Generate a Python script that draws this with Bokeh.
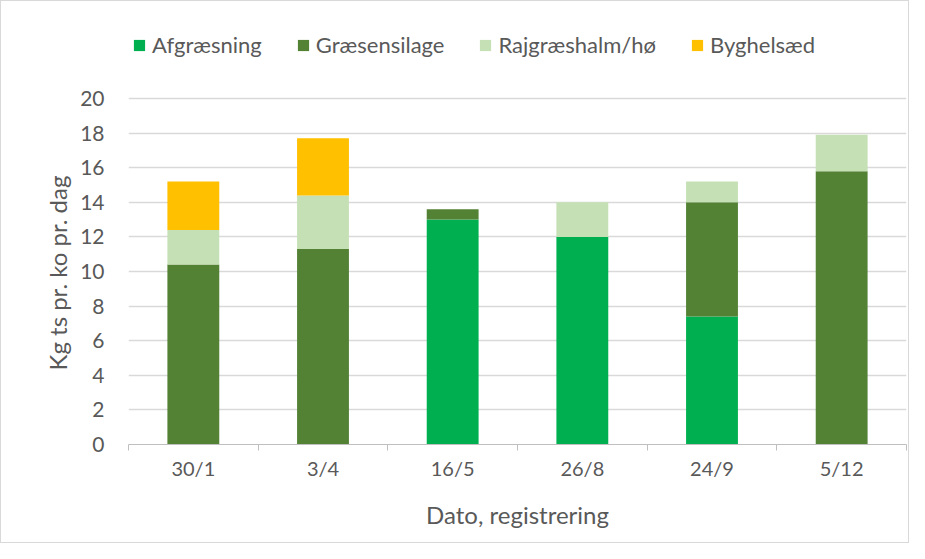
from bokeh.plotting import figure
from bokeh.models import ColumnDataSource, FixedTicker, Range1d, Legend, LegendItem, Title
from bokeh.embed import file_html
from bokeh.resources import INLINE

# ---- data ----
dates = ["30/1", "3/4", "16/5", "26/8", "24/9", "5/12"]
afgraesning = [0, 0, 13.0, 12.0, 7.4, 0]
graesensilage = [10.4, 11.3, 0.6, 0, 6.6, 15.8]
rajgraeshalm = [2.0, 3.1, 0, 2.0, 1.2, 2.1]
byghelsaed = [2.8, 3.3, 0, 0, 0, 0]
series_names = ["Afgræsning", "Græsensilage", "Rajgræshalm/hø", "Byghelsæd"]
colors = ["#00B050", "#548235", "#C5E0B4", "#FFC000"]
y_ticks = list(range(0, 21, 2))
x_label = "Dato, registrering"
y_label = "Kg ts pr. ko pr. dag"

FONT = "Lato"
TXT = "#595959"

# layout (pixels): value axis 0..20 spans 346 px; frame extends upward to hold the legend
W, H = 909, 543
FR_TOP, FR_BOTTOM, FR_LEFT, FR_RIGHT = 10, 443, 127, 905
AX_TOP_PX = 97  # pixel row of the value 20
y_max_val = y_ticks[-1]
y_top = y_max_val * (FR_BOTTOM - FR_TOP) / (FR_BOTTOM - AX_TOP_PX)

xs = [i + 0.5 for i in range(len(dates))]
keys = ["a", "g", "r", "b"]
src = ColumnDataSource(dict(x=xs, a=afgraesning, g=graesensilage, r=rajgraeshalm, b=byghelsaed))

p = figure(width=W, height=H, output_backend="svg", toolbar_location=None,
           x_range=Range1d(0, len(dates)), y_range=Range1d(0, y_top),
           min_border_left=FR_LEFT, min_border_right=W - FR_RIGHT,
           min_border_top=FR_TOP, min_border_bottom=H - FR_BOTTOM)
p.outline_line_color = None
p.styles = {"border": "1px solid #D9D9D9"}

rs = p.vbar_stack(keys, x="x", width=0.4, source=src, fill_color=colors, line_color=None)

items = [LegendItem(label=n, renderers=[r]) for n, r in zip(series_names, rs)]
leg = Legend(items=items, orientation="horizontal", location=(4, 386),
             border_line_color=None, background_fill_alpha=0,
             label_text_font=FONT, label_text_font_size="22px", label_text_color=TXT,
             glyph_width=14, glyph_height=14, label_standoff=6, spacing=34,
             padding=0, margin=0, label_height=24)
p.add_layout(leg)

# y axis
p.yaxis.ticker = FixedTicker(ticks=y_ticks)
p.yaxis.axis_line_color = None
p.yaxis.major_tick_line_color = None
p.yaxis.minor_tick_line_color = None
p.yaxis.major_label_text_font = FONT
p.yaxis.major_label_text_font_size = "21px"
p.yaxis.major_label_text_color = TXT
p.yaxis.major_label_standoff = 18

# y axis title, placed along the 0..20 part of the value axis
ytitle = Title(text=y_label, align="left", offset=74, standoff=11,
               text_font=FONT, text_font_size="24px", text_font_style="normal",
               text_color=TXT)
p.add_layout(ytitle, "left")

# x axis
p.xaxis.ticker = FixedTicker(ticks=xs, minor_ticks=list(range(len(dates) + 1)))
p.xaxis.major_label_overrides = {x: d for x, d in zip(xs, dates)}
p.xaxis.axis_line_color = "#BFBFBF"
p.xaxis.major_tick_line_color = None
p.xaxis.major_tick_out = 0
p.xaxis.major_tick_in = 0
p.xaxis.minor_tick_line_color = "#BFBFBF"
p.xaxis.minor_tick_out = 6
p.xaxis.minor_tick_in = 0
p.xaxis.major_label_text_font = FONT
p.xaxis.major_label_text_font_size = "20px"
p.xaxis.major_label_text_color = TXT
p.xaxis.major_label_standoff = 5
p.xaxis.axis_label = x_label
p.xaxis.axis_label_text_font = FONT
p.xaxis.axis_label_text_font_size = "24px"
p.xaxis.axis_label_text_font_style = "normal"
p.xaxis.axis_label_text_color = TXT
p.xaxis.axis_label_standoff = 17

p.xgrid.grid_line_color = None
p.ygrid.ticker = FixedTicker(ticks=y_ticks)
p.ygrid.grid_line_color = "#D9D9D9"
p.ygrid.grid_line_width = 1.3

open("out.html", "w").write(file_html(p, INLINE))
